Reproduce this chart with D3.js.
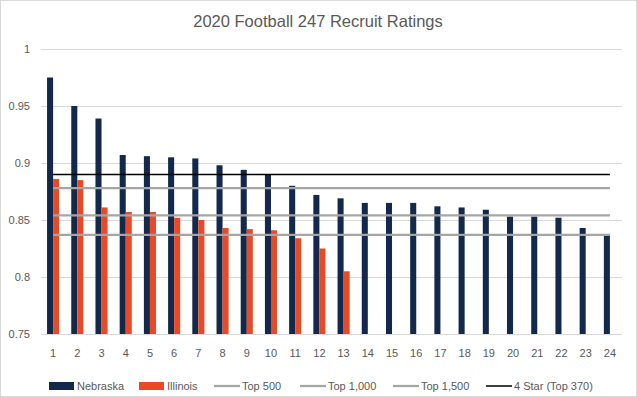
<!DOCTYPE html>
<html>
<head>
<meta charset="utf-8">
<script src="https://cdn.jsdelivr.net/npm/d3@7"></script>
<style>
  body { margin: 0; background: #fff; }
  svg { display: block; font-family: "Liberation Sans", Arial, sans-serif; }
</style>
</head>
<body>
<svg id="chart"></svg>
<script>
// Data
const ranks = d3.range(1, 25).map(String);
const nebraska = [0.975, 0.950, 0.939, 0.907, 0.906, 0.905, 0.904, 0.898, 0.894, 0.890, 0.880, 0.872,
                  0.869, 0.865, 0.865, 0.865, 0.862, 0.861, 0.859, 0.853, 0.853, 0.852, 0.843, 0.837];
const illinois = [0.886, 0.885, 0.861, 0.857, 0.857, 0.852, 0.850, 0.843, 0.842, 0.841, 0.834, 0.825, 0.805];
const refNames = ["Top 500", "Top 1,000", "Top 1,500", "4 Star (Top 370)"];
const refValues = [0.878, 0.854, 0.837, 0.890];
const yTicks = [0.75, 0.8, 0.85, 0.9, 0.95, 1];

const width = 637;
const height = 397;
const margin = { top: 49, right: 15, bottom: 63, left: 41 };

const navy = "#13294B";
const orange = "#E84A27";
const refColors = ["#A5A5A5", "#A5A5A5", "#A5A5A5", "#000000"];
const textColor = "#595959";

const svg = d3.select("#chart")
    .attr("width", width)
    .attr("height", height);

// chart border
svg.append("rect")
    .attr("x", 0.5).attr("y", 0.5)
    .attr("width", width - 1).attr("height", height - 1)
    .attr("fill", "#fff")
    .attr("stroke", "#d9d9d9");

// title
svg.append("text")
    .attr("x", 318)
    .attr("y", 27)
    .attr("text-anchor", "middle")
    .style("font-size", "16.5px")
    .style("fill", textColor)
    .text("2020 Football 247 Recruit Ratings");

const x = d3.scaleBand()
    .domain(ranks)
    .range([margin.left, width - margin.right])
    .paddingInner(0.5)
    .paddingOuter(0.25);

const xSeries = d3.scaleBand()
    .domain(["Nebraska", "Illinois"])
    .range([0, x.bandwidth()]);

const y = d3.scaleLinear()
    .domain([0.75, 1])
    .range([height - margin.bottom, margin.top]);

// gridlines
svg.append("g")
    .selectAll("line")
    .data(yTicks.slice(1))
    .join("line")
    .attr("x1", margin.left)
    .attr("x2", width - margin.right)
    .attr("y1", d => Math.round(y(d)) + 0.5)
    .attr("y2", d => Math.round(y(d)) + 0.5)
    .attr("stroke", "#d9d9d9");

// y labels
svg.append("g")
    .selectAll("text")
    .data(yTicks)
    .join("text")
    .attr("x", 30)
    .attr("y", d => y(d))
    .attr("dy", "0.35em")
    .attr("text-anchor", "end")
    .style("font-size", "11px")
    .style("fill", textColor)
    .text(d => d3.format("")(d));

// bars
const bars = svg.append("g");
bars.selectAll(".neb")
    .data(nebraska)
    .join("rect")
    .attr("class", "neb")
    .attr("x", (d, i) => x(ranks[i]) + xSeries("Nebraska"))
    .attr("width", xSeries.bandwidth())
    .attr("y", d => y(d))
    .attr("height", d => y(0.75) - y(d))
    .attr("fill", navy);

bars.selectAll(".ill")
    .data(illinois)
    .join("rect")
    .attr("class", "ill")
    .attr("x", (d, i) => x(ranks[i]) + xSeries("Illinois"))
    .attr("width", xSeries.bandwidth())
    .attr("y", d => y(d))
    .attr("height", d => y(0.75) - y(d))
    .attr("fill", orange);

// x axis baseline
svg.append("line")
    .attr("x1", margin.left)
    .attr("x2", width - margin.right)
    .attr("y1", Math.round(y(0.75)) + 0.5)
    .attr("y2", Math.round(y(0.75)) + 0.5)
    .attr("stroke", "#d9d9d9");

// x labels
svg.append("g")
    .selectAll("text")
    .data(ranks)
    .join("text")
    .attr("x", d => x(d) + x.bandwidth() / 2)
    .attr("y", 353)
    .attr("dy", "0.35em")
    .attr("text-anchor", "middle")
    .style("font-size", "11px")
    .style("fill", textColor)
    .text(d => d);

// reference lines, first to last category centre
const xStart = x(ranks[0]) + x.bandwidth() / 2;
const xEnd = x(ranks[ranks.length - 1]) + x.bandwidth() / 2;
svg.append("g")
    .selectAll("line")
    .data(refValues)
    .join("line")
    .attr("x1", xStart)
    .attr("x2", xEnd)
    .attr("y1", d => y(d))
    .attr("y2", d => y(d))
    .attr("stroke", (d, i) => refColors[i])
    .attr("stroke-width", (d, i) => i === 3 ? 1.5 : 2.25);

// legend
const legendY = 386;
const legendItems = [
    { name: "Nebraska", type: "rect", color: navy, x: 49 },
    { name: "Illinois", type: "rect", color: orange, x: 139 },
    ...refNames.map((n, i) => ({ name: n, type: "line", color: refColors[i], x: [214, 300, 393, 486][i], w: i === 3 ? 1.5 : 2.25 }))
];

const legend = svg.append("g")
    .selectAll("g")
    .data(legendItems)
    .join("g")
    .attr("transform", d => `translate(${d.x},${legendY})`);

legend.filter(d => d.type === "rect")
    .append("rect")
    .attr("x", 0).attr("y", -4)
    .attr("width", 25).attr("height", 8)
    .attr("fill", d => d.color);

legend.filter(d => d.type === "line")
    .append("line")
    .attr("x1", 0).attr("x2", 26)
    .attr("y1", 0).attr("y2", 0)
    .attr("stroke", d => d.color)
    .attr("stroke-width", d => d.w);

legend.append("text")
    .attr("x", d => d.type === "rect" ? 28 : 28)
    .attr("y", 0)
    .attr("dy", "0.35em")
    .style("font-size", "11px")
    .style("fill", textColor)
    .text(d => d.name);
</script>
</body>
</html>
